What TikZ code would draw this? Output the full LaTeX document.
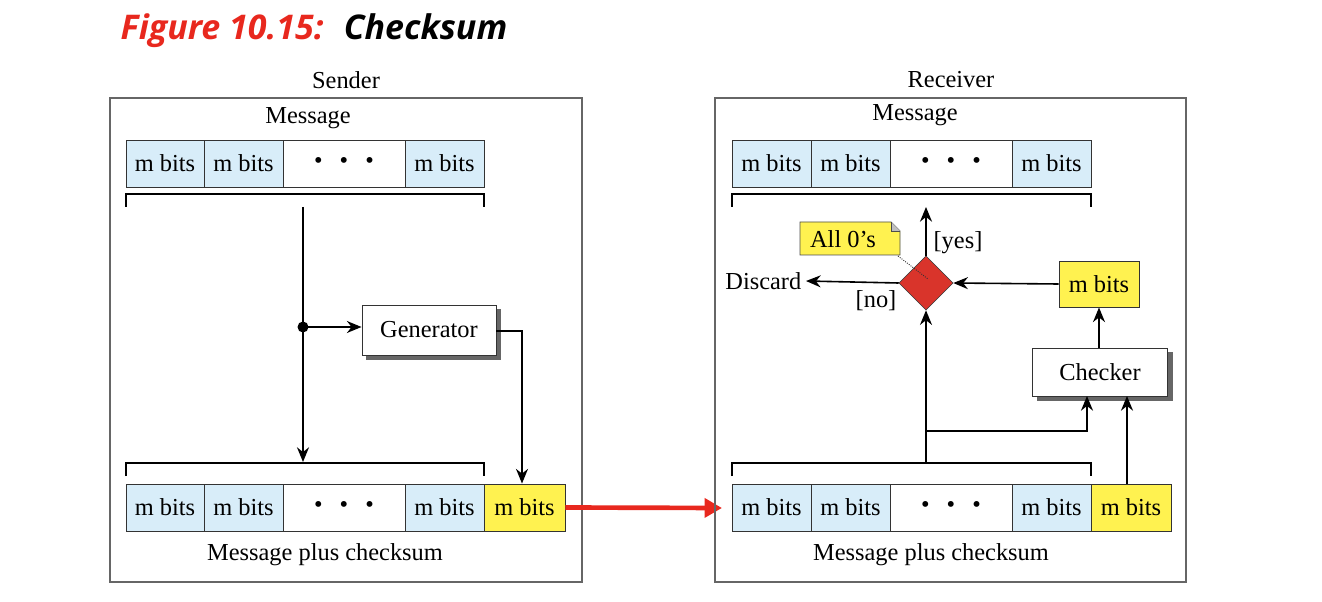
\documentclass[tikz,border=0pt]{standalone}
\usepackage{fontspec}
\setmainfont{Liberation Serif}
\newfontfamily\titlef{Open Sans}
\usetikzlibrary{arrows.meta,shapes.geometric}
\definecolor{lb}{HTML}{D8EDF9}
\definecolor{yl}{HTML}{FFF250}
\definecolor{dr}{HTML}{D9342B}
\definecolor{tr}{HTML}{E8281E}
\begin{document}
\begin{tikzpicture}[x=0.75pt,y=-0.75pt,
  txt/.style={font=\fontsize{18.3}{22}\selectfont},
  cell/.style={draw=black!80,line width=0.7pt,font=\fontsize{18.3}{22}\selectfont,inner sep=0},
  frame/.style={draw=black!60,line width=1.1pt},
  ar/.style={-{Stealth[length=11pt,width=9pt]},line width=1.2pt},
  ln/.style={line width=1.2pt},
  shad/.style={fill=black!60},
  proc/.style={draw=black!80,fill=white,line width=0.7pt}]
\useasboundingbox (0,0) rectangle (1322,602);
\node[anchor=west,font=\titlef\fontsize{25.5}{30}\selectfont\bfseries\itshape] (title) at (116,31) {\textcolor{tr}{Figure 10.15:}\hspace{0.6em}Checksum};
% Sender
\draw[frame] (110,98) rectangle (582,582);
\node[txt] (snd) at (346,80) {Sender};
\node[txt] (smsg) at (308,118) {Message};
\foreach \a/\b/\t/\c [count=\i] in {126/204/m bits/lb,204/283/m bits/lb,283/405/{\textbullet\hspace{0.7em}\textbullet\hspace{0.7em}\textbullet}/white,405/484/m bits/lb}{
  \node[cell,fill=\c,minimum width={(\b-\a)*0.75pt},minimum height=35.25pt] (st\i) at ({(\a+\b)/2},163.5) {\t};
  \node[cell,fill=\c,minimum width={(\b-\a)*0.75pt},minimum height=35.25pt] (sb\i) at ({(\a+\b)/2},507.5) {\t};}
\node[cell,fill=yl,minimum width=60.75pt,minimum height=35.25pt] (sb5) at (524.5,507.5) {m bits};
\draw[ln] (126,207) -- (126,194) -- (484,194) -- (484,207);
\draw[ln] (126,476) -- (126,463) -- (484,463) -- (484,476);
\node[txt] (smpc) at (325,555) {Message plus checksum};
\fill[shad] (366,309) rectangle (501,360);
\node[proc,txt,minimum width=100.5pt,minimum height=37.5pt] (gen) at (429,330) {Generator};
\coordinate (sj) at (303,327);
\fill (sj) circle (5.5);
\draw[ln] (303,207) -- (sj);
\draw[ar] (sj) -- (303,462);
\draw[ar] (sj) -- (gen.west|-sj);
\draw[ar] (gen.east|-0,331) -- (522,331) -- (sb5.north-|522,0);
\draw[-{Triangle[length=13pt,width=14pt]},tr,line width=3.5pt] (sb5.east) -- (722,508);
% Receiver
\draw[frame] (715,98) rectangle (1186,582);
\node[txt] (rcv) at (951,80) {Receiver};
\node[txt] (rmsg) at (915,115) {Message};
\foreach \a/\b/\t/\c [count=\i] in {732/811/m bits/lb,811/890/m bits/lb,890/1012/{\textbullet\hspace{0.7em}\textbullet\hspace{0.7em}\textbullet}/white,1012/1091/m bits/lb}{
  \node[cell,fill=\c,minimum width={(\b-\a)*0.75pt},minimum height=35.25pt] (rt\i) at ({(\a+\b)/2},163.5) {\t};
  \node[cell,fill=\c,minimum width={(\b-\a)*0.75pt},minimum height=35.25pt] (rb\i) at ({(\a+\b)/2},507.5) {\t};}
\node[cell,fill=yl,minimum width=60pt,minimum height=35.25pt] (rb5) at (1131,507.5) {m bits};
\draw[ln] (732,207) -- (732,194) -- (1091,194) -- (1091,207);
\draw[ln] (732,476) -- (732,463) -- (1091,463) -- (1091,476);
\node[txt] (rmpc) at (931,555) {Message plus checksum};
\node[diamond,draw=black!80,fill=dr,minimum width=40.5pt,minimum height=40.5pt,inner sep=0] (dia) at (926,283) {};
\node[cell,fill=yl,minimum width=60pt,minimum height=34.5pt] (ym) at (1099,284) {m bits};
\fill[shad] (1037,352) rectangle (1173,401);
\node[proc,txt,minimum width=101.25pt,minimum height=36pt] (chk) at (1100,372) {Checker};
\node[txt,anchor=east] (disc) at (806,281) {Discard};
\node[txt] (no) at (876,301) {[no]};
\node[txt] (yes) at (958,243) {[yes]};
\draw[ar] (dia.west) -- (disc.east);
\draw[ar] (dia.north) -- (926,207);
\draw[ar] (ym.west) -- (dia.east);
\draw[ar] (chk.north-|ym) -- (ym.south);
\draw[ar] (926,463) -- (dia.south);
\draw[ar] (926,431) -- (1087,431) -- (1087,396);
\draw[ar] (rb5.north-|1127,0) -- (1127,396);
% note
\draw[black!70,fill=yl,line width=0.7pt] (800,222) -- (891,222) -- (900,231) -- (900,255) -- (800,255) -- cycle;
\draw[black!70,fill=black!25,line width=0.6pt] (891,222) -- (891,231) -- (900,231);
\node[txt] (note) at (843,239) {All 0's};
\draw[densely dotted,line width=0.7pt,black!80] (898,256) -- (928,279);
\end{tikzpicture}
\end{document}
